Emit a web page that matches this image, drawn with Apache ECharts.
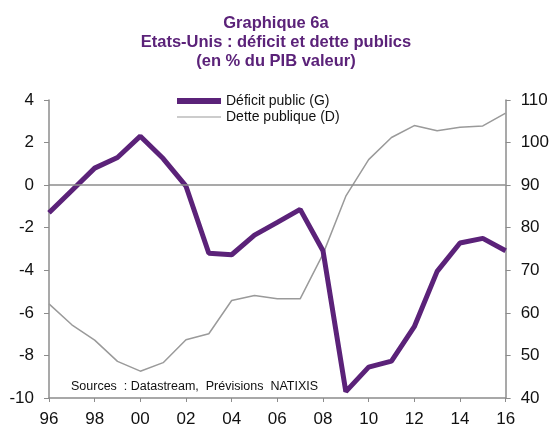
<!DOCTYPE html>
<html lang="fr">
<head>
    <meta charset="UTF-8">
    <script src="https://cdn.jsdelivr.net/npm/echarts@6/dist/echarts.min.js"></script>
    <title>Graphique 6a</title>
    <style>
        body { margin: 0; background: #ffffff; }
        #chart { width: 552px; height: 428px; }
    </style>
</head>
<body>
    <div id="chart"></div>
    <script>
        var years = ['96', '97', '98', '99', '00', '01', '02', '03', '04', '05', '06',
                     '07', '08', '09', '10', '11', '12', '13', '14', '15', '16'];
        var deficit = [-1.3, -0.25, 0.8, 1.3, 2.3, 1.25, -0.05, -3.2, -3.27, -2.35, -1.75,
                       -1.14, -3.08, -9.7, -8.55, -8.27, -6.65, -4.05, -2.72, -2.5, -3.08];
        var dette = [62.1, 57.2, 53.6, 48.6, 46.3, 48.3, 53.7, 55.1, 62.9, 64.1, 63.3,
                     63.3, 73.8, 87.4, 96.0, 101.2, 104.0, 102.8, 103.6, 103.9, 106.9];

        var purple = '#5b2279';
        var grey = '#9a9a9a';
        var axisGrey = '#8c8c8c';
        var font = 'Liberation Sans, Arial, sans-serif';

        var chart = echarts.init(document.getElementById('chart'));

        chart.setOption({
            animation: false,
            backgroundColor: '#ffffff',
            title: {
                text: 'Graphique 6a\nEtats-Unis : déficit et dette publics\n(en % du PIB valeur)',
                left: 'center',
                top: 9,
                textStyle: {
                    color: purple,
                    fontFamily: font,
                    fontWeight: 'bold',
                    fontSize: 16.5,
                    lineHeight: 19
                }
            },
            legend: {
                orient: 'vertical',
                left: 172,
                top: 89,
                itemWidth: 44,
                itemHeight: 6,
                itemGap: 2,
                textStyle: { color: '#111', fontFamily: font, fontSize: 14 },
                data: [
                    { name: 'Déficit public (G)', icon: 'rect' },
                    { name: 'Dette publique (D)', icon: 'path://M0,0 L44,0 L44,1 L0,1 Z' }
                ]
            },
            graphic: [{
                type: 'text',
                left: 71,
                top: 380,
                style: {
                    text: 'Sources  : Datastream,  Prévisions  NATIXIS',
                    fill: '#111',
                    font: '12.5px "Liberation Sans", Arial, sans-serif'
                }
            }],
            grid: { left: 49, right: 45, top: 100, bottom: 29 },
            xAxis: {
                type: 'category',
                data: years,
                boundaryGap: false,
                axisLine: { onZero: false, lineStyle: { color: axisGrey, width: 1.5 } },
                axisTick: { interval: 1, length: 4, lineStyle: { color: axisGrey } },
                axisLabel: { interval: 1, color: '#111', fontSize: 17, fontFamily: font, margin: 13 },
                splitLine: { show: false }
            },
            yAxis: [{
                type: 'value',
                min: -10, max: 4, interval: 2,
                axisLine: { show: true, lineStyle: { color: axisGrey, width: 1.5 } },
                axisTick: { show: true, length: 5, lineStyle: { color: axisGrey } },
                axisLabel: { color: '#111', fontSize: 17, fontFamily: font, margin: 15 },
                splitLine: { show: false }
            }, {
                type: 'value',
                min: 40, max: 110, interval: 10,
                position: 'right',
                axisLine: { show: true, lineStyle: { color: axisGrey, width: 1.5 } },
                axisTick: { show: true, length: 5, lineStyle: { color: axisGrey } },
                axisLabel: { color: '#111', fontSize: 17, fontFamily: font, margin: 15 },
                splitLine: { show: false }
            }],
            series: [{
                name: 'Dette publique (D)',
                type: 'line',
                yAxisIndex: 1,
                data: dette,
                symbol: 'none',
                color: grey,
                lineStyle: { color: grey, width: 1.5 },
                z: 2
            }, {
                name: 'Déficit public (G)',
                type: 'line',
                yAxisIndex: 0,
                data: deficit,
                symbol: 'none',
                color: purple,
                lineStyle: { color: purple, width: 5 },
                z: 3,
                markLine: {
                    silent: true,
                    symbol: 'none',
                    label: { show: false },
                    lineStyle: { color: axisGrey, width: 1.5, type: 'solid' },
                    data: [{ yAxis: 0 }]
                }
            }]
        });
    </script>
</body>
</html>
